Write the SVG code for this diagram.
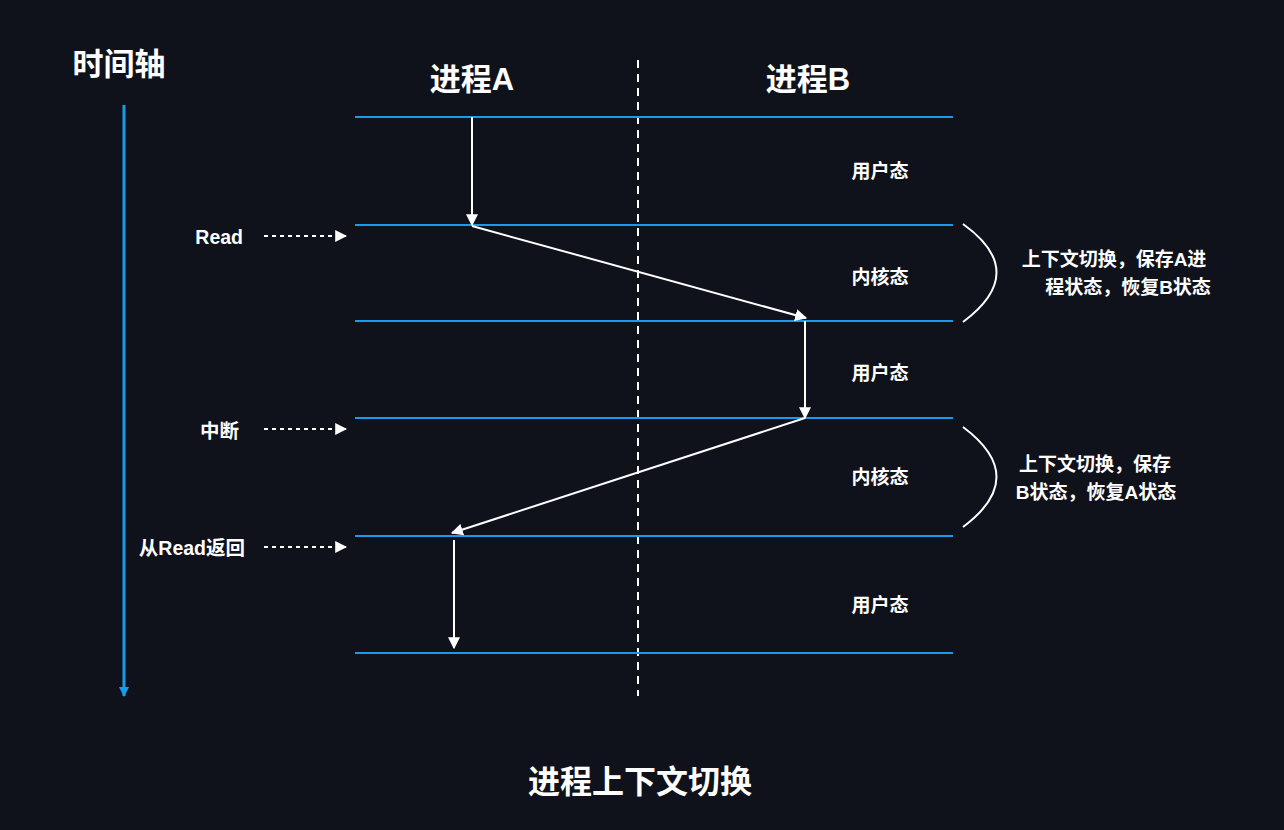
<svg xmlns="http://www.w3.org/2000/svg" width="1284" height="830" viewBox="0 0 1284 830">
<defs>
<style>
text{font-family:"Liberation Sans","Noto Sans CJK SC",sans-serif;fill:#ffffff}
.t{font-size:31px;font-weight:bold}
.s{font-size:19px;font-weight:bold}
.l{font-size:19.5px;font-weight:bold}
.h{stroke:#1a9bea;stroke-width:2}
.a{stroke:#ffffff;stroke-width:2;fill:none}
.d{stroke:#ffffff;stroke-width:2;stroke-dasharray:4 4;fill:none}
</style>
<marker id="ah" viewBox="0 0 10 10" refX="9" refY="5" markerWidth="12" markerHeight="12" markerUnits="userSpaceOnUse" orient="auto"><path d="M0,0 L10,5 L0,10 z" fill="#ffffff"/></marker>
<marker id="ab" viewBox="0 0 10 10" refX="9" refY="5" markerWidth="12" markerHeight="10" markerUnits="userSpaceOnUse" orient="auto"><path d="M0,0 L10,5 L0,10 z" fill="#1a9bea"/></marker>
</defs>
<rect width="1284" height="830" fill="#0f121b"/>
<g id="timeline">
<text class="t" x="119" y="75" text-anchor="middle">时间轴</text>
<line x1="124" y1="105" x2="124" y2="696" stroke="#1a9bea" stroke-width="3" marker-end="url(#ab)"/>
</g>
<g id="headers">
<text class="t" x="472" y="90" text-anchor="middle">进程A</text>
<text class="t" x="808" y="90" text-anchor="middle">进程B</text>
<line x1="638" y1="60" x2="638" y2="696" stroke="#ffffff" stroke-width="2" stroke-dasharray="8 6"/>
</g>
<g id="levels">
<line class="h" x1="355" y1="117" x2="953" y2="117"/>
<line class="h" x1="355" y1="225" x2="953" y2="225"/>
<line class="h" x1="355" y1="321" x2="953" y2="321"/>
<line class="h" x1="355" y1="418" x2="953" y2="418"/>
<line class="h" x1="355" y1="536" x2="953" y2="536"/>
<line class="h" x1="355" y1="653" x2="953" y2="653"/>
</g>
<g id="states">
<text class="s" x="880" y="178" text-anchor="middle">用户态</text>
<text class="s" x="880" y="284" text-anchor="middle">内核态</text>
<text class="s" x="880" y="380" text-anchor="middle">用户态</text>
<text class="s" x="880" y="484" text-anchor="middle">内核态</text>
<text class="s" x="880" y="612" text-anchor="middle">用户态</text>
</g>
<g id="events">
<text class="l" x="243" y="244" text-anchor="end">Read</text>
<text class="l" x="239" y="438" text-anchor="end">中断</text>
<text class="l" x="245" y="555" text-anchor="end">从Read返回</text>
</g>
<g id="notes">
<path class="a" d="M963,224 Q1030,272 963,322"/>
<path class="a" d="M963,427 Q1030,477 963,527"/>
<text class="s" x="1114" y="266" text-anchor="middle">上下文切换，保存A进</text>
<text class="s" x="1128" y="294" text-anchor="middle">程状态，恢复B状态</text>
<text class="s" x="1095" y="471" text-anchor="middle">上下文切换，保存</text>
<text class="s" x="1096" y="499" text-anchor="middle">B状态，恢复A状态</text>
</g>
<g id="connectors">
<line class="d" x1="264" y1="236" x2="346" y2="236" marker-end="url(#ah)"/>
<line class="d" x1="264" y1="429" x2="346" y2="429" marker-end="url(#ah)"/>
<line class="d" x1="264" y1="547" x2="346" y2="547" marker-end="url(#ah)"/>
<line class="a" x1="472" y1="117" x2="472" y2="225" marker-end="url(#ah)"/>
<line class="a" x1="472" y1="226" x2="806" y2="318" marker-end="url(#ah)"/>
<line class="a" x1="805" y1="321" x2="805" y2="418" marker-end="url(#ah)"/>
<line class="a" x1="805" y1="418" x2="452" y2="533" marker-end="url(#ah)"/>
<line class="a" x1="454" y1="540" x2="454" y2="648" marker-end="url(#ah)"/>
</g>
<text id="title" x="640" y="793" font-size="32" font-weight="bold" text-anchor="middle">进程上下文切换</text>
</svg>
